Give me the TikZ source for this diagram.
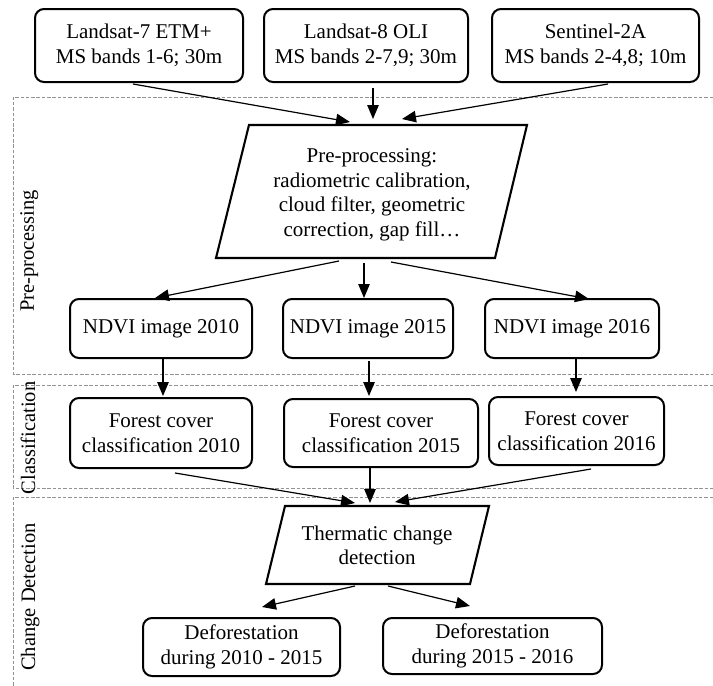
\documentclass[tikz,border=0pt]{standalone}
\usepackage{fontspec}
\setmainfont{Liberation Serif}
\usetikzlibrary{arrows.meta}
\begin{document}
\begin{tikzpicture}[x=1pt,y=-1pt,
  box/.style={draw, line width=2pt, rounded corners=9pt, align=center, inner sep=0pt, font=\fontsize{21}{24.5}\selectfont},
  ptext/.style={align=center, inner sep=0pt, font=\fontsize{21}{24.5}\selectfont},
  arr/.style={line width=1.2pt, -{Triangle[length=14pt,width=11.5pt]}},
  zone/.style={draw=gray!85, line width=0.8pt, dash pattern=on 3.5pt off 1.8pt},
  para/.style={draw, line width=2.1pt, line join=miter},
  lbl/.style={rotate=90, anchor=base, inner sep=0pt, font=\fontsize{20.5}{22}\selectfont}]
\useasboundingbox (0,0) rectangle (713,686);

% dashed zones
\draw[zone] (713,97) -- (13,97) -- (13,374) -- (713,374);
\draw[zone] (713,385) -- (13,385) -- (13,488) -- (713,488);
\draw[zone] (713,497) -- (13,497) -- (13,686);

% side labels
\node[lbl] (L1) at (34,251) {Pre-processing};
\node[lbl] (L2) at (35,438) {Classification};
\node[lbl] (L3) at (35,597) {Change Detection};

% top boxes
\node[box, minimum width=208pt, minimum height=73pt] (T1) at (139,45.5) {Landsat-7 ETM+\\MS bands 1-6; 30m};
\node[box, minimum width=204pt, minimum height=73pt] (T2) at (366,45.5) {Landsat-8 OLI\\MS bands 2-7,9; 30m};
\node[box, minimum width=207pt, minimum height=73pt] (T3) at (595.5,45.5) {Sentinel-2A\\MS bands 2-4,8; 10m};

% pre-processing parallelogram
\draw[para] (249,125) -- (527,125) -- (495,258) -- (216,258) -- cycle;
\node[ptext] (P) at (372,195) {Pre-processing:\\radiometric calibration,\\cloud filter, geometric\\correction, gap fill…};

% NDVI boxes
\node[box, minimum width=182pt, minimum height=59pt] (N1) at (161,328.5) {NDVI image 2010};
\node[box, minimum width=170pt, minimum height=59pt] (N2) at (368,328.5) {NDVI image 2015};
\node[box, minimum width=174pt, minimum height=59pt] (N3) at (572,328.5) {NDVI image 2016};

% forest boxes
\node[box, minimum width=182pt, minimum height=70pt] (F1) at (161,433) {Forest cover\\classification 2010};
\node[box, minimum width=194pt, minimum height=68pt] (F2) at (381,433) {Forest cover\\classification 2015};
\node[box, minimum width=175pt, minimum height=68pt] (F3) at (576.5,431) {Forest cover\\classification 2016};

% thermatic change detection
\draw[para] (285,506) -- (489,506) -- (470,584) -- (266,584) -- cycle;
\node[ptext] (TC) at (377,545.5) {Thermatic change\\detection};

% deforestation boxes
\node[box, minimum width=197pt, minimum height=58pt] (D1) at (241.5,647) {Deforestation\\during 2010 - 2015};
\node[box, minimum width=219pt, minimum height=56pt] (D2) at (492.5,646) {Deforestation\\during 2015 - 2016};

% connector end points on the parallelograms
\coordinate (pa) at (350,122);
\coordinate (pb) at (373,119);
\coordinate (pc) at (402,119);
\coordinate (qa) at (339,261);
\coordinate (qb) at (364,263);
\coordinate (qc) at (391,262);
\coordinate (ra) at (355,503);
\coordinate (rb) at (370,503);
\coordinate (rc) at (395,502);
\coordinate (sa) at (355,586);
\coordinate (sb) at (388,586);

% connectors
\draw[arr] ([xshift=-6pt,yshift=-1pt]T1.south) -- (pa);
\draw[arr] ([xshift=7pt,yshift=-5pt]T2.south) -- (pb);
\draw[arr] ([xshift=12.5pt,yshift=-1pt]T3.south) -- (pc);

\draw[arr] (qa) -- ([xshift=-6pt]N1.north);
\draw[arr] (qb) -- ([xshift=-4pt]N2.north);
\draw[arr] (qc) -- ([xshift=17pt,yshift=-1pt]N3.north);

\draw[arr] ([xshift=2pt]N1.south) -- ([xshift=2pt,yshift=1pt]N1.south |- F1.north);
\draw[arr] ([xshift=1pt,yshift=-2pt]N2.south) -- ([xshift=1pt,yshift=2pt]N2.south |- F2.north);
\draw[arr] ([xshift=4pt]N3.south) -- ([xshift=4pt,yshift=4pt]N3.south |- F3.north);

\draw[arr] ([xshift=14pt,yshift=-4pt]F1.south) -- (ra);
\draw[arr] ([xshift=-11pt]F2.south) -- (rb);
\draw[arr] ([xshift=14.5pt,yshift=-3pt]F3.south) -- (rc);

\draw[arr] (sa) -- ([xshift=20.5pt,yshift=10pt]D1.north);
\draw[arr] (sb) -- ([xshift=-22.5pt,yshift=11pt]D2.north);
\end{tikzpicture}
\end{document}
